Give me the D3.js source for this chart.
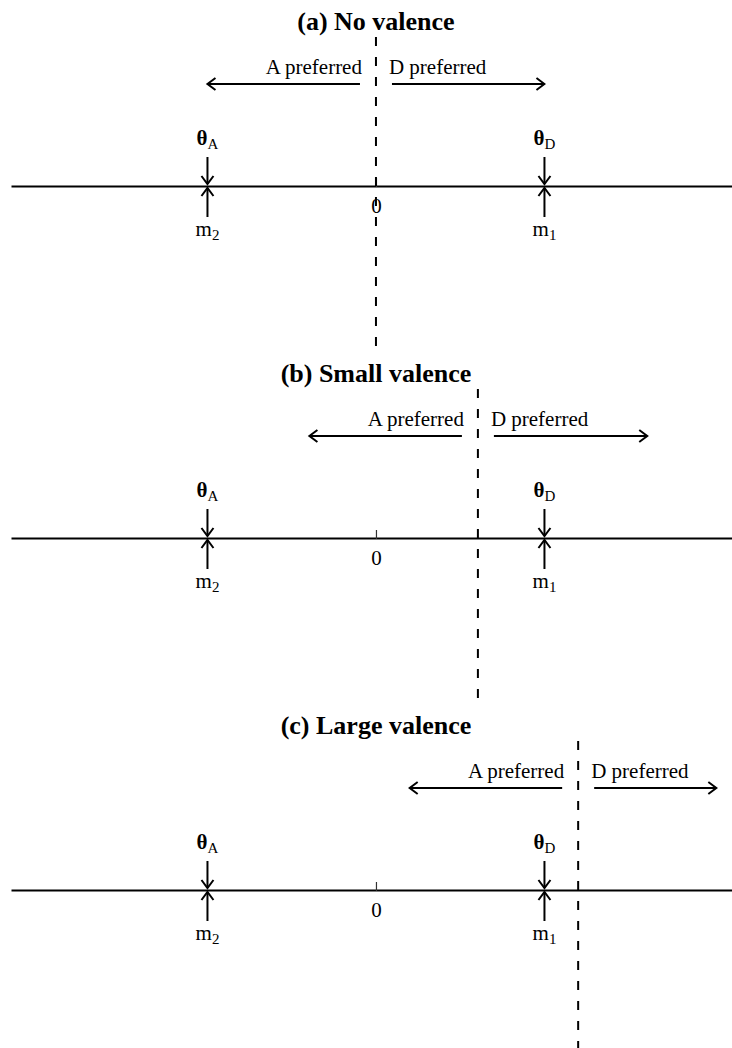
<!DOCTYPE html>
<head>
  <meta charset="utf-8">
  <style>
    body {margin: 0; background: #fff;}
    svg text {font-family: "Liberation Serif", "Times New Roman", Times, serif;}
    .axis .domain {stroke: #000; stroke-width: 2;}
    .axis .tick line {stroke: #333; stroke-width: 1.2;}
    .axis .tick text {font-size: 21px; fill: #000;}
    .arrow {stroke: #000; stroke-width: 2; fill: none;}
    .cut {stroke: #000; stroke-width: 2; stroke-dasharray: 9,11;}
  </style>
</head>
<body>
  <svg width="732" height="1048"></svg>
  <script src="https://cdnjs.cloudflare.com/ajax/libs/d3/7.8.5/d3.min.js"></script>
  <script>
    // panel titles and cutoff positions (policy units)
    var titles = ["(a) No valence", "(b) Small valence", "(c) Large valence"];
    var cutoffs = [0, 0.605, 1.2];
    var dEnds = [1.0, 1.61, 2.02];      // where the "D preferred" arrow stops
    var aEnds = [-1.0, -0.395, 0.2];    // where the "A preferred" arrow stops
    var tickValues = [0];
    // party ideal points (top) and platforms (bottom)
    var ideals = [{name: "θ", sub: "A", v: -1}, {name: "θ", sub: "D", v: 1}];
    var platforms = [{name: "m", sub: "2", v: -1}, {name: "m", sub: "1", v: 1}];

    var svg = d3.select("svg"),
        panelGap = 352,
        firstAxis = 186;

    var x = d3.scaleLinear().domain([-2.166, 2.113]).range([11, 732]);

    // arrow head
    svg.append("defs").append("marker")
        .attr("id", "head")
        .attr("markerUnits", "userSpaceOnUse")
        .attr("viewBox", "-10 -8 12 16")
        .attr("markerWidth", 12).attr("markerHeight", 16)
        .attr("refX", 0).attr("refY", 0)
        .attr("orient", "auto")
      .append("path")
        .attr("d", "M-8,-6L0,0L-8,6")
        .attr("fill", "none").attr("stroke", "#000").attr("stroke-width", 2);

    var xAxis = d3.axisBottom(x)
        .tickValues(tickValues)
        .tickSizeInner(-8)
        .tickSizeOuter(0)
        .tickPadding(12)
        .tickFormat(d3.format("d"));

    titles.forEach(function(t, i) {
      var ay = firstAxis + i * panelGap;
      var c = cutoffs[i];
      var g = svg.append("g");

      g.append("text")
          .attr("x", x(0)).attr("y", ay - 156)
          .attr("text-anchor", "middle")
          .attr("font-size", 26).attr("font-weight", "bold")
          .text(t);

      g.append("g")
          .attr("class", "axis")
          .attr("transform", "translate(0," + ay + ")")
          .call(xAxis)
          .call(function(s) { s.select(".tick line").attr("y2", -8).attr("y1", 1); });

      // dashed cutoff
      g.append("line")
          .attr("class", "cut")
          .attr("x1", x(c)).attr("x2", x(c))
          .attr("y1", ay - 149).attr("y2", ay + 160);

      // preference arrows
      g.append("line").attr("class", "arrow")
          .attr("x1", x(c) - 16).attr("x2", x(aEnds[i]))
          .attr("y1", ay - 102).attr("y2", ay - 102)
          .attr("marker-end", "url(#head)");
      g.append("line").attr("class", "arrow")
          .attr("x1", x(c) + 16).attr("x2", x(dEnds[i]))
          .attr("y1", ay - 102).attr("y2", ay - 102)
          .attr("marker-end", "url(#head)");
      g.append("text")
          .attr("x", x(c) - 14).attr("y", ay - 112)
          .attr("text-anchor", "end").attr("font-size", 21)
          .text("A preferred");
      g.append("text")
          .attr("x", x(c) + 13).attr("y", ay - 112)
          .attr("text-anchor", "start").attr("font-size", 21)
          .text("D preferred");

      // ideal points: arrows pointing down
      ideals.forEach(function(d) {
        g.append("line").attr("class", "arrow")
            .attr("x1", x(d.v)).attr("x2", x(d.v))
            .attr("y1", ay - 29).attr("y2", ay - 2)
            .attr("marker-end", "url(#head)");
        var lab = g.append("text")
            .attr("x", x(d.v)).attr("y", ay - 41)
            .attr("text-anchor", "middle").attr("font-size", 21);
        lab.append("tspan").attr("font-weight", "bold").text(d.name);
        lab.append("tspan").attr("font-size", 15).attr("dy", 4).text(d.sub);
      });

      // platforms: arrows pointing up
      platforms.forEach(function(d) {
        g.append("line").attr("class", "arrow")
            .attr("x1", x(d.v)).attr("x2", x(d.v))
            .attr("y1", ay + 31).attr("y2", ay + 2)
            .attr("marker-end", "url(#head)");
        var lab = g.append("text")
            .attr("x", x(d.v)).attr("y", ay + 50)
            .attr("text-anchor", "middle").attr("font-size", 21);
        lab.append("tspan").text(d.name);
        lab.append("tspan").attr("font-size", 15).attr("dy", 4).text(d.sub);
      });
    });
  </script>
</body>
